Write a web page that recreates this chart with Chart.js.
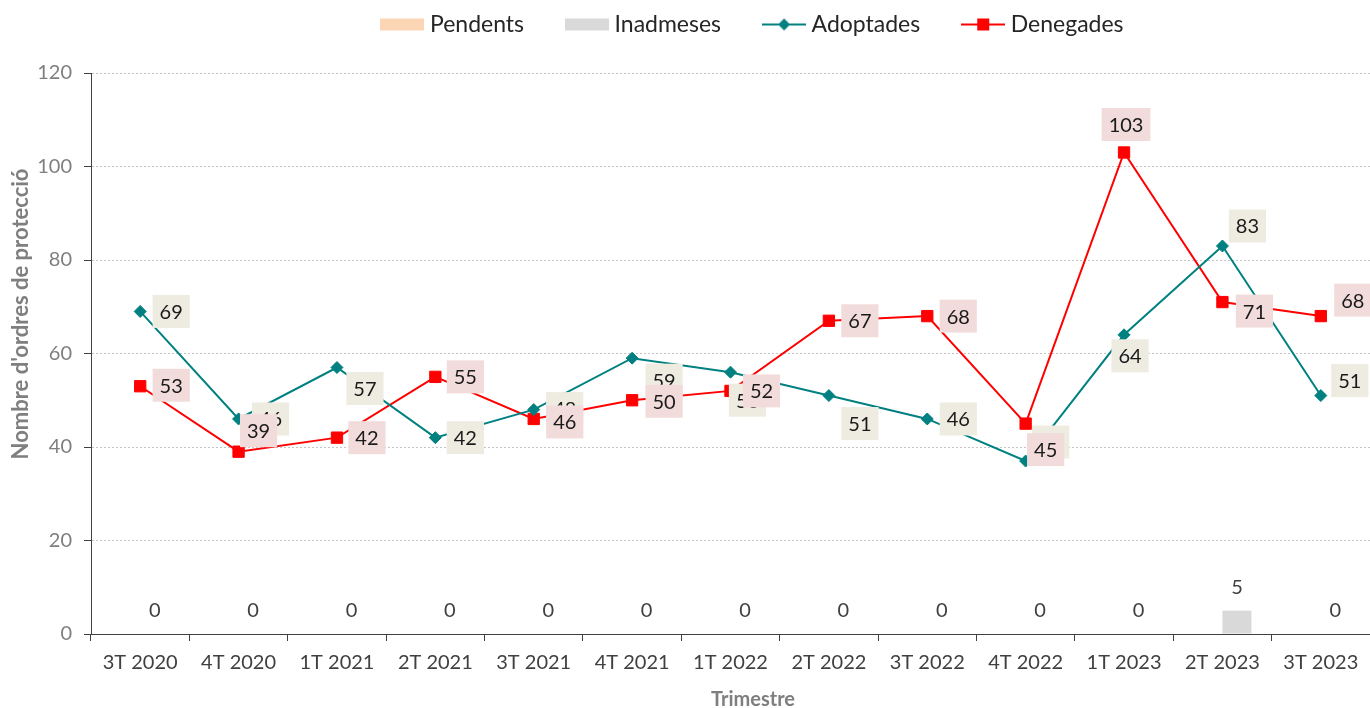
<!DOCTYPE html>
<html>
<head>
<meta charset="utf-8">
<script src="https://cdn.jsdelivr.net/npm/chart.js@4/dist/chart.umd.min.js"></script>
<style>
  body { margin: 0; background: #fff; }
</style>
</head>
<body>
<canvas id="chart" width="1370" height="708"></canvas>
<script>
// Chart data
const trimestres = ['3T 2020', '4T 2020', '1T 2021', '2T 2021', '3T 2021', '4T 2021', '1T 2022',
  '2T 2022', '3T 2022', '4T 2022', '1T 2023', '2T 2023', '3T 2023'];
const pendents = [0, 0, 0, 0, 0, 0, 0, 0, 0, 0, 0, 0, 0];
const inadmeses = [0, 0, 0, 0, 0, 0, 0, 0, 0, 0, 0, 5, 0];
const adoptades = [69, 46, 57, 42, 48, 59, 56, 51, 46, 37, 64, 83, 51];
const denegades = [53, 39, 42, 55, 46, 50, 52, 67, 68, 45, 103, 71, 68];

// Where each value label sits relative to its point (dx, dy in px)
const adoptadesLabelOffsets = [[31, 0], [32, 0], [28, 21], [30, 0], [31, -1], [32, 22], [17, 28],
  [31, 28], [31, 0], [25, -19], [6, 21], [25, -20], [29, -15]];
const denegadesLabelOffsets = [[31, -1], [20, -21], [30, 0], [30, 0], [31, 3], [32, 1], [31, 0],
  [31, 0], [31, 0], [20, 26], [2, -28], [32, 9], [32, -16]];

const TEAL = '#008080';
const RED = '#FF0000';
const PEACH = '#FCD5B5';
const GREY_BAR = '#D9D9D9';

Chart.defaults.font.family = 'Lato';

// Legend swatches: wide bars for the bar series, line + marker for the lines
function makeSwatch(kind, color) {
  const c = document.createElement('canvas');
  c.width = 44;
  c.height = 14;
  const g = c.getContext('2d');
  g.fillStyle = color;
  g.strokeStyle = color;
  if (kind === 'bar') {
    g.fillRect(0, 1, 44, 12);
  } else {
    g.lineWidth = 2;
    g.beginPath();
    g.moveTo(0, 7);
    g.lineTo(44, 7);
    g.stroke();
    if (kind === 'diamond') {
      g.beginPath();
      g.moveTo(22, 1); g.lineTo(28, 7); g.lineTo(22, 13); g.lineTo(16, 7);
      g.closePath();
      g.fill();
    } else {
      g.fillRect(16, 1, 12, 12);
    }
  }
  return c;
}
const swatches = [
  makeSwatch('bar', PEACH),
  makeSwatch('bar', GREY_BAR),
  makeSwatch('diamond', TEAL),
  makeSwatch('square', RED),
];

// Move the legend to where the original puts it
const legendShift = {
  id: 'legendShift',
  afterLayout(chart) {
    const lg = chart.legend;
    lg.left += 70; lg.right += 70;
    lg.top -= 27; lg.bottom -= 27;
  }
};

// Value labels with coloured boxes, and the axis titles
function drawBoxLabel(ctx, text, cx, cy, bg) {
  const tw = ctx.measureText(text).width;
  const w = tw + 14, h = 33;
  ctx.fillStyle = bg;
  ctx.fillRect(cx - w / 2, cy - h / 2, w, h);
  ctx.fillStyle = '#1a1a1a';
  ctx.fillText(text, cx, cy + 1);
}

const valueLabels = {
  id: 'valueLabels',
  afterDatasetsDraw(chart) {
    const ctx = chart.ctx;
    ctx.save();
    ctx.font = '20px Lato';
    ctx.textAlign = 'center';
    ctx.textBaseline = 'middle';

    // bar totals (Inadmeses)
    chart.getDatasetMeta(1).data.forEach((bar, i) => {
      ctx.fillStyle = '#404040';
      ctx.fillText(String(inadmeses[i]), bar.x, bar.y - 23);
    });

    chart.getDatasetMeta(2).data.forEach((pt, i) => {
      const [dx, dy] = adoptadesLabelOffsets[i];
      drawBoxLabel(ctx, String(adoptades[i]), pt.x + dx, pt.y + dy, '#EEECE1');
    });
    chart.getDatasetMeta(3).data.forEach((pt, i) => {
      const [dx, dy] = denegadesLabelOffsets[i];
      drawBoxLabel(ctx, String(denegades[i]), pt.x + dx, pt.y + dy, '#F2DCDB');
    });
    ctx.restore();
  },
  afterDraw(chart) {
    const ctx = chart.ctx;
    ctx.save();
    ctx.fillStyle = '#7f7f7f';
    ctx.font = 'bold 20px Lato';
    ctx.textAlign = 'center';
    ctx.textBaseline = 'middle';
    ctx.fillText('Trimestre', 753, 700);
    ctx.font = 'bold 22px Lato';
    ctx.translate(21, 314);
    ctx.rotate(-Math.PI / 2);
    ctx.fillText("Nombre d'ordres de protecció", 0, 0);
    ctx.restore();
  }
};

new Chart(document.getElementById('chart'), {
  type: 'bar',
  data: {
    labels: trimestres,
    datasets: [
      { label: 'Pendents', data: pendents, backgroundColor: PEACH, categoryPercentage: 0.59, barPercentage: 1 },
      { label: 'Inadmeses', data: inadmeses, backgroundColor: GREY_BAR, categoryPercentage: 0.59, barPercentage: 1 },
      {
        type: 'line', label: 'Adoptades', data: adoptades,
        borderColor: TEAL, backgroundColor: TEAL, borderWidth: 2,
        pointStyle: 'rectRot', pointRadius: 6, pointBorderWidth: 1,
        pointBackgroundColor: TEAL, pointBorderColor: TEAL, tension: 0, fill: false,
      },
      {
        type: 'line', label: 'Denegades', data: denegades,
        borderColor: RED, backgroundColor: RED, borderWidth: 2,
        pointStyle: 'rect', pointRadius: 8, pointBorderWidth: 1,
        pointBackgroundColor: RED, pointBorderColor: RED, tension: 0, fill: false,
      },
    ],
  },
  options: {
    responsive: false,
    animation: false,
    layout: { autoPadding: false, padding: { top: -7, left: 0, right: 0, bottom: 0 } },
    plugins: {
      tooltip: { enabled: false },
      legend: {
        position: 'top',
        labels: {
          usePointStyle: true,
          pointStyleWidth: 32,
          padding: 47,
          color: '#262626',
          font: { size: 23 },
          generateLabels(chart) {
            const items = Chart.defaults.plugins.legend.labels.generateLabels(chart);
            items.forEach((it, i) => { it.pointStyle = swatches[i]; });
            return items;
          },
        },
      },
    },
    scales: {
      x: {
        grid: { offset: true, drawOnChartArea: false, tickLength: 7, tickColor: '#404040' },
        border: { color: '#404040' },
        ticks: { color: '#404040', font: { size: 20 }, padding: 10, maxRotation: 0, autoSkip: false },
        afterFit(scale) {
          scale.height = 74;
          scale.paddingLeft = 0;
          scale.paddingRight = 0;
        },
      },
      y: {
        min: 0,
        max: 120,
        ticks: { stepSize: 20, color: '#7f7f7f', font: { size: 20 }, padding: 12 },
        grid: { color: '#c4c4c4', tickColor: '#404040', tickLength: 7 },
        border: { color: '#404040', dash: [2, 2] },
        afterFit(scale) { scale.width = 91; },
      },
    },
  },
  plugins: [legendShift, valueLabels],
});
</script>
</body>
</html>
